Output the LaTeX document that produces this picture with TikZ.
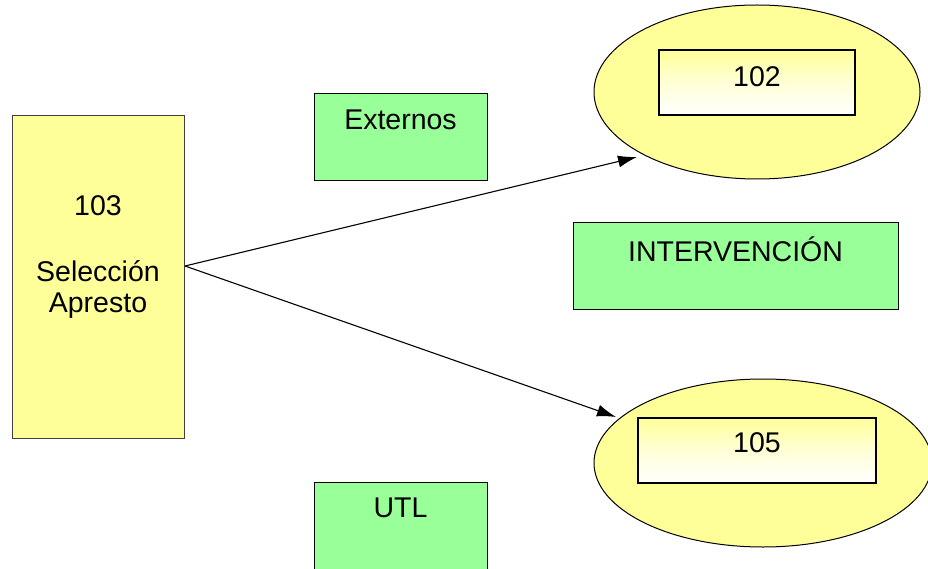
\documentclass[tikz,border=0pt]{standalone}
\usepackage{fontspec}
\setmainfont{Liberation Sans}
\usetikzlibrary{arrows.meta,shapes.geometric}
\definecolor{pyellow}{HTML}{FFFF99}
\definecolor{pgreen}{HTML}{99FF99}
\tikzset{
  x=1pt,y=-1pt,
  lbl/.style={font=\fontsize{28.5}{31}\selectfont, inner sep=0pt, align=center},
  gbox/.style={draw=black, fill=pgreen, line width=0.9pt, inner sep=0pt},
  ybox/.style={draw=black!75, fill=pyellow, line width=0.9pt, inner sep=0pt},
  oval/.style={ellipse, draw=black, fill=pyellow, line width=1pt, inner sep=0pt},
  inbox/.style={draw=black, line width=1.3pt, top color=pyellow, bottom color=white, middle color=white!60!pyellow, shading angle=0, inner sep=0pt},
  arr/.style={-{Latex[length=19pt,width=12pt]}, line width=1.1pt}
}
\begin{document}
\begin{tikzpicture}
\useasboundingbox (0,0) rectangle (928,569);
% left box
\node[ybox, minimum width=172pt, minimum height=323pt] (sel) at (98,277) {};
\node[lbl] (seltxt) at (98,257) {103\\[35pt]Selección\\Apresto};
% green boxes
\node[gbox, minimum width=173pt, minimum height=87pt] (ext) at (400.5,136.5) {};
\node[lbl] (exttxt) at (400.5,120) {Externos};
\node[gbox, minimum width=325pt, minimum height=87pt] (int) at (735.5,265.5) {};
\node[lbl] (inttxt) at (735.5,249) {INTERVENCIÓN};
\node[gbox, minimum width=173pt, minimum height=87pt] (utl) at (400.5,525.5) {};
\node[lbl] (utltxt) at (400.5,508) {UTL};
% ellipses
\node[oval, minimum width=326pt, minimum height=174pt] (e1) at (757,92) {};
\node[inbox, minimum width=196pt, minimum height=65pt] (r1) at (757,82.5) {};
\node[lbl] (t1) at (757,77) {102};
\node[oval, minimum width=338pt, minimum height=168pt] (e2) at (763,463) {};
\node[inbox, minimum width=238pt, minimum height=65pt] (r2) at (757,450.5) {};
\node[lbl] (t2) at (757,443) {105};
% connectors
\coordinate (src) at (185,266);
\coordinate (d1) at (637,157);
\coordinate (d2) at (616,417);
\draw[arr] (src) -- (d1);
\draw[arr] (src) -- (d2);
\end{tikzpicture}
\end{document}
